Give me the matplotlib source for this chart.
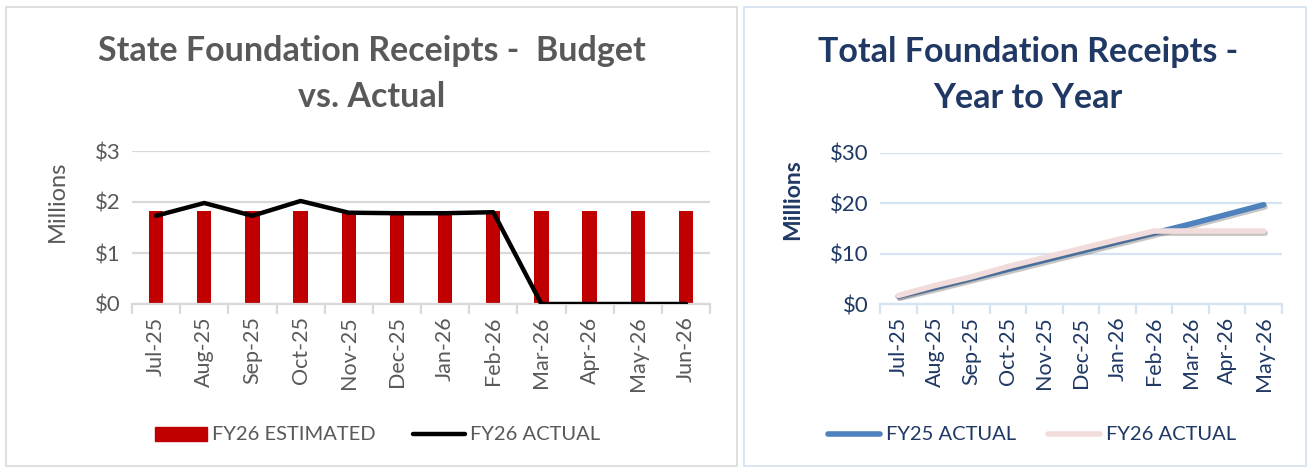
import matplotlib
matplotlib.use("Agg")
import matplotlib.pyplot as plt
import matplotlib.patheffects as pe
from matplotlib.patches import Rectangle
from matplotlib.lines import Line2D
from matplotlib.ticker import FixedLocator, FuncFormatter

plt.rcParams['font.family'] = ['Lato', 'DejaVu Sans']

months_left = ["Jul-25", "Aug-25", "Sep-25", "Oct-25", "Nov-25", "Dec-25",
               "Jan-26", "Feb-26", "Mar-26", "Apr-26", "May-26", "Jun-26"]
fy26_estimated = [1.82] * 12
fy26_actual = [1.73, 1.98, 1.73, 2.02, 1.79, 1.78, 1.78, 1.80, 0, 0, 0, 0]

months_right = ["Jul-25", "Aug-25", "Sep-25", "Oct-25", "Nov-25", "Dec-25",
                "Jan-26", "Feb-26", "Mar-26", "Apr-26", "May-26"]
fy25_total = [1.6, 3.3, 5.1, 6.9, 8.7, 10.5, 12.3, 14.1, 15.9, 17.8, 19.7]
fy26_total = [1.73, 3.71, 5.44, 7.46, 9.25, 11.03, 12.81, 14.5, 14.5, 14.5, 14.5]

W, H = 1312, 468
fig = plt.figure(figsize=(W / 100, H / 100), dpi=100)

def fx(px):
    return px / W

def fy(py):
    return 1 - py / H

# panel borders
fig.patches.append(Rectangle((fx(6), fy(466)), fx(731), (466 - 7) / H,
                             transform=fig.transFigure, fill=False,
                             edgecolor="#D9D9D9", linewidth=1.2))
fig.patches.append(Rectangle((fx(744), fy(466)), fx(562), (466 - 7) / H,
                             transform=fig.transFigure, fill=False,
                             edgecolor="#D6E2F0", linewidth=1.2))

GRAY = "#595959"
NAVY = "#1F3864"

def style_axes(ax, n, gridc, labc, ymax, step):
    ax.set_xlim(-0.5, n - 0.5)
    ax.set_ylim(0, ymax)
    ax.set_yticks(range(0, ymax + 1, step))
    ax.yaxis.grid(True, color=gridc, linewidth=1.6)
    ax.set_axisbelow(True)
    for s in ["top", "right", "left"]:
        ax.spines[s].set_visible(False)
    ax.spines["bottom"].set_color(gridc)
    ax.spines["bottom"].set_linewidth(1.6)
    ax.tick_params(axis="y", length=0, labelsize=16, labelcolor=labc, pad=8)
    ax.tick_params(axis="x", which="major", length=0, labelsize=15.5,
                   labelcolor=labc, rotation=90, pad=9)
    ax.xaxis.set_minor_locator(FixedLocator([i - 0.5 for i in range(n + 1)]))
    ax.tick_params(axis="x", which="minor", length=7, width=1.6, color=gridc)
    ax.yaxis.set_major_formatter(FuncFormatter(lambda v, p: f"${int(v)}"))

# ---------- left chart ----------
ax1 = fig.add_axes([fx(132), fy(304), fx(578), (304 - 151) / H])
x1 = list(range(len(months_left)))
ax1.bar(x1, fy26_estimated, width=0.3, color="#C00000", zorder=2)
ax1.plot(x1, fy26_actual, color="black", linewidth=3.2, zorder=3,
         solid_capstyle="round", solid_joinstyle="round")
ax1.set_xticks(x1)
ax1.set_xticklabels(months_left)
style_axes(ax1, len(months_left), "#D9D9D9", GRAY, 3, 1)
fig.text(fx(57), fy(201), "Millions", rotation=90, ha="center", va="center",
         fontsize=17, color=GRAY)
fig.text(fx(372), fy(51), "State Foundation Receipts -  Budget", ha="center",
         va="center", fontsize=24.5, fontweight="bold", color=GRAY)
fig.text(fx(372), fy(97), "vs. Actual", ha="center", va="center",
         fontsize=24.5, fontweight="bold", color=GRAY)

# left legend
fig.patches.append(Rectangle((fx(155), fy(441)), fx(52), 14 / H,
                             transform=fig.transFigure, color="#C00000"))
fig.text(fx(212), fy(434), "FY26 ESTIMATED", ha="left", va="center",
         fontsize=14.5, color=GRAY)
fig.lines.append(Line2D([fx(413), fx(465)], [fy(434), fy(434)],
                        transform=fig.transFigure, color="black",
                        linewidth=3.2, solid_capstyle="round"))
fig.text(fx(470), fy(434), "FY26 ACTUAL", ha="left", va="center",
         fontsize=14.5, color=GRAY)

# ---------- right chart ----------
ax2 = fig.add_axes([fx(880), fy(304.3), fx(402), (304.3 - 152.7) / H])
x2 = list(range(len(months_right)))
shadow = [pe.SimpleLineShadow(offset=(1, -1.5), shadow_color="#444444",
                              alpha=0.3), pe.Normal()]
ax2.plot(x2, fy25_total, color="#4F81BD", linewidth=4, zorder=3,
         solid_capstyle="round", path_effects=shadow)
ax2.plot(x2, fy26_total, color="#F2DCDB", linewidth=4, zorder=4,
         solid_capstyle="round", path_effects=shadow)
ax2.set_xticks(x2)
ax2.set_xticklabels(months_right)
style_axes(ax2, len(months_right), "#D6E3F3", NAVY, 30, 10)
fig.text(fx(793), fy(200), "Millions", rotation=90, ha="center", va="center",
         fontsize=16.5, fontweight="bold", color=NAVY)
fig.text(fx(1028), fy(52), "Total Foundation Receipts -", ha="center",
         va="center", fontsize=24.5, fontweight="bold", color=NAVY)
fig.text(fx(1028), fy(98), "Year to Year", ha="center", va="center",
         fontsize=24.5, fontweight="bold", color=NAVY)

# right legend
fig.lines.append(Line2D([fx(828), fx(880)], [fy(434), fy(434)],
                        transform=fig.transFigure, color="#4F81BD",
                        linewidth=4, solid_capstyle="round"))
fig.text(fx(886), fy(434), "FY25 ACTUAL", ha="left", va="center",
         fontsize=14.5, color=NAVY)
fig.lines.append(Line2D([fx(1048), fx(1100)], [fy(434), fy(434)],
                        transform=fig.transFigure, color="#F2DCDB",
                        linewidth=4, solid_capstyle="round"))
fig.text(fx(1106), fy(434), "FY26 ACTUAL", ha="left", va="center",
         fontsize=14.5, color=NAVY)

fig.savefig("out.png", dpi=100, facecolor="white")
